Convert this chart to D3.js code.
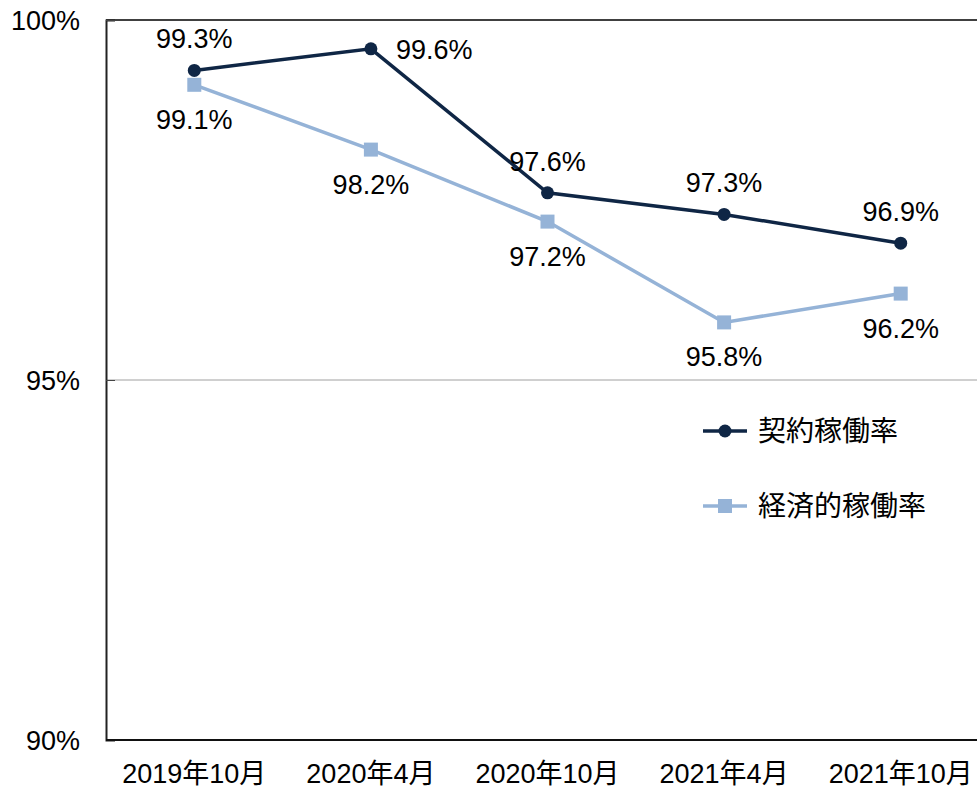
<!DOCTYPE html>
<html><head><meta charset="utf-8">
<script src="https://cdn.jsdelivr.net/npm/d3@7"></script>
<style>
body{margin:0;background:#fff;}
text{font-family:"Liberation Sans",Arial,"Noto Sans CJK JP",sans-serif;fill:#000;}
</style></head>
<body><svg id="c" width="977" height="789"></svg>
<script>
const categories = ["2019年10月","2020年4月","2020年10月","2021年4月","2021年10月"];
const contractRate = [99.3, 99.6, 97.6, 97.3, 96.9];
const economicRate = [99.1, 98.2, 97.2, 95.8, 96.2];
const seriesNames = ["契約稼働率","経済的稼働率"];
const yTicks = [90, 95, 100];
const contractLabelPos = ["above","right","above","above","above"];
const economicLabelPos = ["below","below","below","below","below"];

(function(){
const svg = d3.select("#c");
const pl = 106, pr = 989, pt = 20, pb = 740;
const x = d3.scaleBand().domain(categories).range([pl, pr]);
const y = d3.scaleLinear().domain([90, 100]).range([pb, pt]);
const fs = 27;

// gridline at 95
svg.append("g").selectAll("line").data(yTicks.filter(d => d > 90 && d < 100)).join("line")
  .attr("x1", pl).attr("x2", 977).attr("y1", d => y(d)).attr("y2", d => y(d))
  .attr("stroke", "#a0a0a0").attr("stroke-width", 1);
// top border
svg.append("line").attr("x1", pl).attr("x2", 977).attr("y1", y(100)).attr("y2", y(100))
  .attr("stroke", "#000").attr("stroke-width", 1.5);

// y axis
const yAxis = d3.axisLeft(y).tickValues(yTicks).tickFormat(d => d + "%").tickSize(-9).tickPadding(26);
const ga = svg.append("g").attr("transform", `translate(${pl},0)`).call(yAxis);
ga.select(".domain").attr("stroke", "#222").attr("stroke-width", 2);
ga.selectAll(".tick line").attr("stroke", "#444").attr("stroke-width", 1);
ga.selectAll(".tick text").attr("font-size", fs).attr("font-family", null).attr("dy", "0.35em").attr("fill", "#000");

// x axis
svg.append("line").attr("x1", pl).attr("x2", 977).attr("y1", pb).attr("y2", pb)
  .attr("stroke", "#111").attr("stroke-width", 2);
svg.append("g").selectAll("text").data(categories).join("text")
  .attr("x", d => x(d) + x.bandwidth() / 2).attr("y", 783)
  .attr("text-anchor", "middle").attr("font-size", fs).text(d => d);

const line = d3.line().x((d, i) => x(categories[i]) + x.bandwidth() / 2).y(d => y(d));
const dark = "#0f2645", light = "#95b3d7";

svg.append("path").datum(economicRate).attr("d", line).attr("fill", "none")
  .attr("stroke", light).attr("stroke-width", 3.5);
svg.append("path").datum(contractRate).attr("d", line).attr("fill", "none")
  .attr("stroke", dark).attr("stroke-width", 3.5);

svg.append("g").selectAll("rect").data(economicRate).join("rect")
  .attr("x", (d, i) => x(categories[i]) + x.bandwidth() / 2 - 7)
  .attr("y", d => y(d) - 7).attr("width", 14).attr("height", 14).attr("fill", light);
svg.append("g").selectAll("circle").data(contractRate).join("circle")
  .attr("cx", (d, i) => x(categories[i]) + x.bandwidth() / 2)
  .attr("cy", d => y(d)).attr("r", 6.5).attr("fill", dark);

function labels(data, pos) {
  svg.append("g").selectAll("text").data(data).join("text")
    .attr("x", (d, i) => x(categories[i]) + x.bandwidth() / 2 + (pos[i] === "right" ? 25 : 0))
    .attr("y", (d, i) => y(d) + (pos[i] === "above" ? -22 : pos[i] === "below" ? 44 : 10))
    .attr("text-anchor", (d, i) => pos[i] === "right" ? "start" : "middle")
    .attr("font-size", fs).text(d => d.toFixed(1) + "%");
}
labels(contractRate, contractLabelPos);
labels(economicRate, economicLabelPos);

// legend
const legendY = [431, 506];
const lg = svg.append("g");
[dark, light].forEach((c, i) => {
  lg.append("line").attr("x1", 703).attr("x2", 747).attr("y1", legendY[i]).attr("y2", legendY[i])
    .attr("stroke", c).attr("stroke-width", 3.5);
  if (i === 0) lg.append("circle").attr("cx", 725).attr("cy", legendY[i]).attr("r", 6.5).attr("fill", c);
  else lg.append("rect").attr("x", 718).attr("y", legendY[i] - 7).attr("width", 14).attr("height", 14).attr("fill", c);
  lg.append("text").attr("x", 758).attr("y", legendY[i]).attr("dy", "0.35em")
    .attr("font-size", 28).text(seriesNames[i]);
});
})();
</script></body></html>
